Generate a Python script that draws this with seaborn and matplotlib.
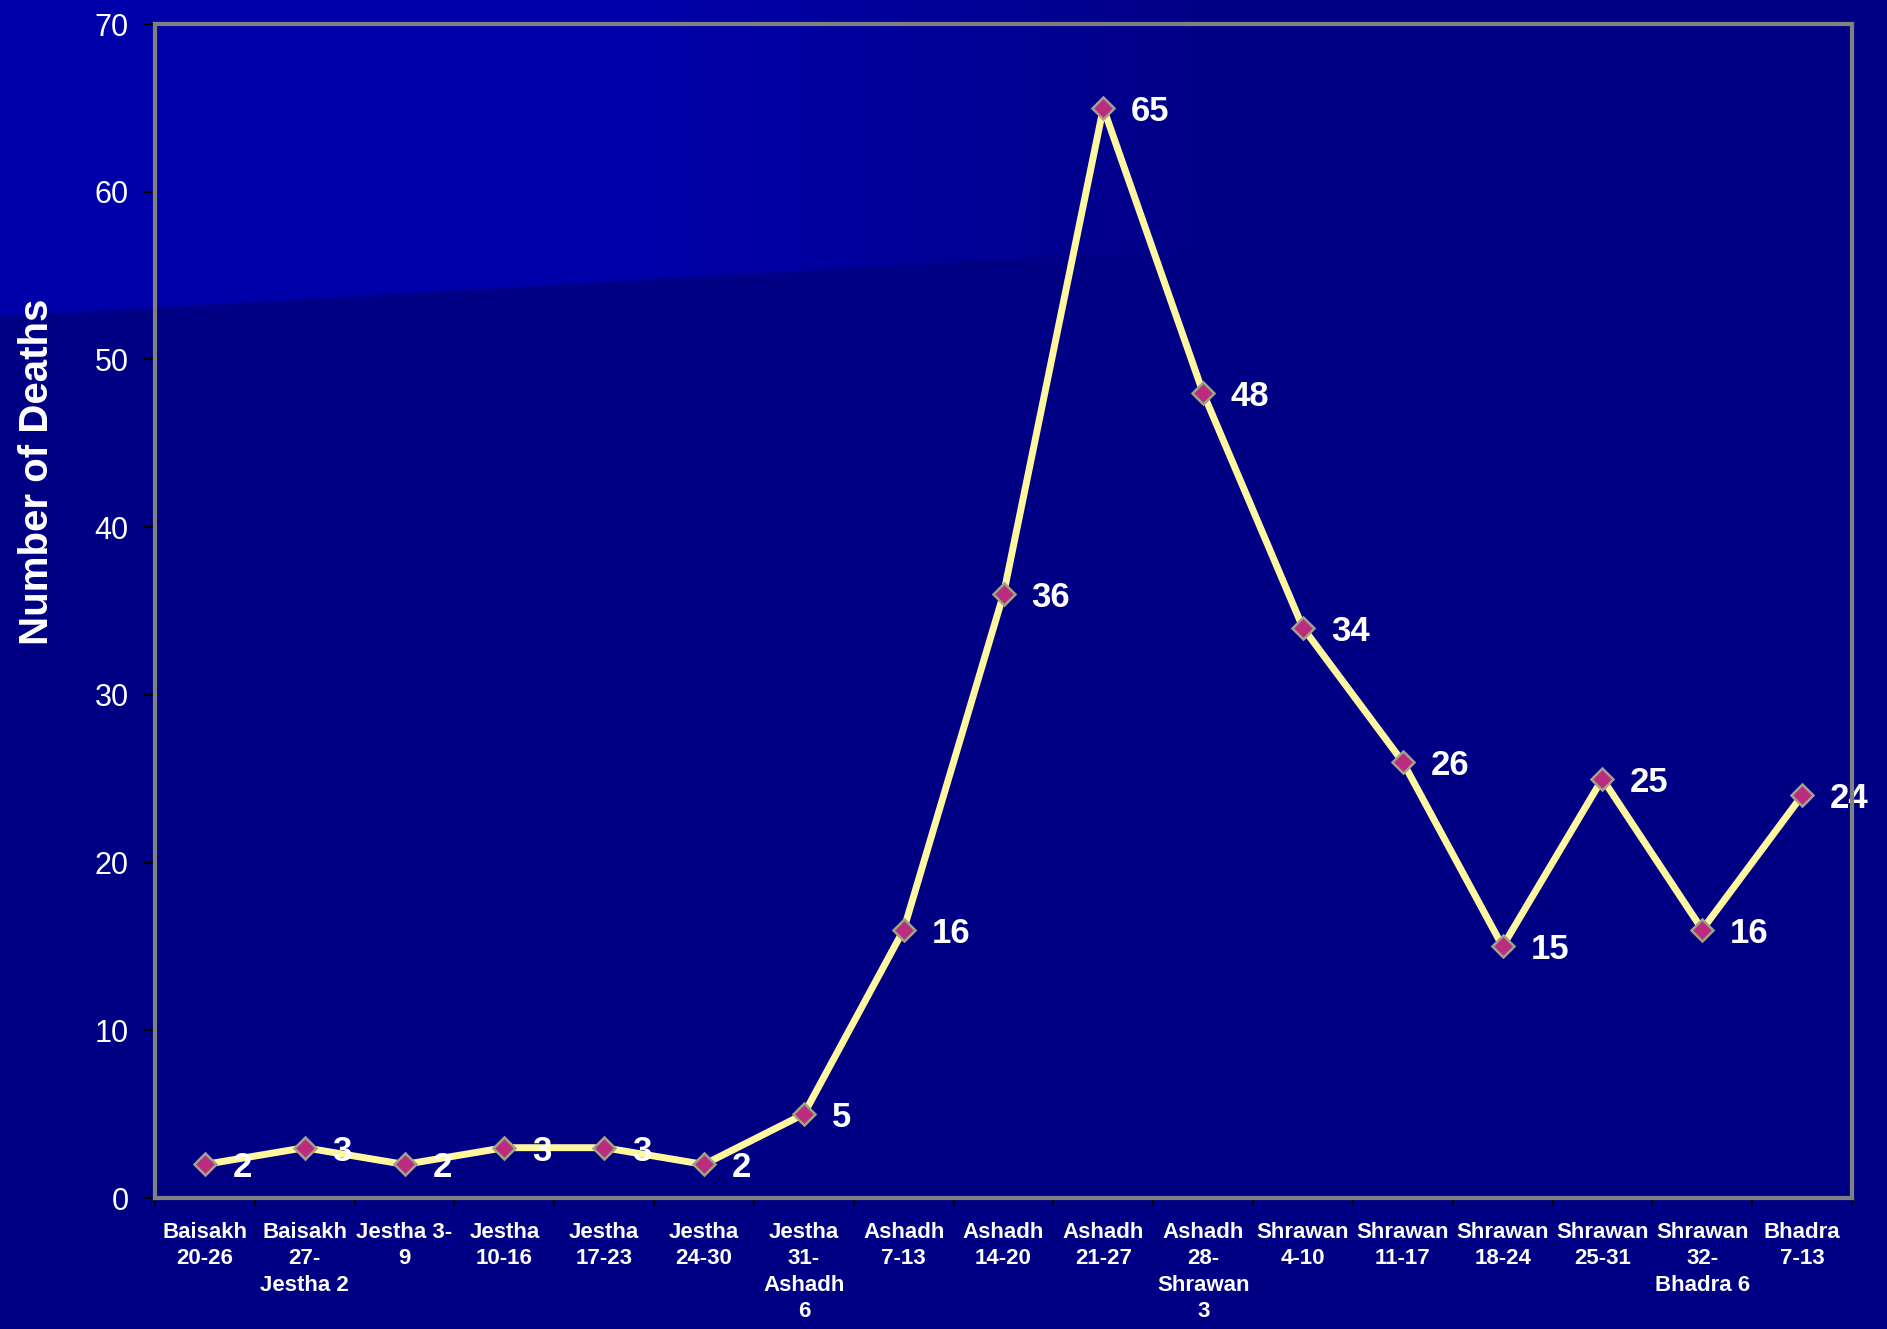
import numpy as np
import pandas as pd
import matplotlib
matplotlib.use("Agg")
import matplotlib.pyplot as plt
import seaborn as sns

categories = ["Baisakh\n20-26", "Baisakh\n27-\nJestha 2", "Jestha 3-\n9", "Jestha\n10-16",
              "Jestha\n17-23", "Jestha\n24-30", "Jestha\n31-\nAshadh\n6", "Ashadh\n7-13",
              "Ashadh\n14-20", "Ashadh\n21-27", "Ashadh\n28-\nShrawan\n3", "Shrawan\n4-10",
              "Shrawan\n11-17", "Shrawan\n18-24", "Shrawan\n25-31", "Shrawan\n32-\nBhadra 6",
              "Bhadra\n7-13"]
deaths = [2, 3, 2, 3, 3, 2, 5, 16, 36, 65, 48, 34, 26, 15, 25, 16, 24]
y_ticks = [0, 10, 20, 30, 40, 50, 60, 70]
y_label = "Number of Deaths"

sns.set_theme(style="white")
plt.rcParams['font.family'] = ['Liberation Sans', 'DejaVu Sans']

W, H = 1887, 1329
fig = plt.figure(figsize=(W / 100, H / 100), dpi=100)

# background with lighter top-left region
bg_ax = fig.add_axes([0, 0, 1, 1], zorder=-10)
xx, yy = np.meshgrid(np.arange(W), np.arange(H))
edge = 316 - 0.057 * xx
inside = np.clip((edge - yy) / 3.0 + 0.5, 0, 1)
fade = np.clip((1250 - xx) / 600.0, 0, 1)
a = inside * fade
dark = np.array([0, 0, 132]) / 255
light = np.array([0, 0, 170]) / 255
img = dark[None, None, :] * (1 - a[..., None]) + light[None, None, :] * a[..., None]
bg_ax.imshow(img, aspect='auto', extent=[0, 1, 0, 1], origin='upper')
bg_ax.set_axis_off()

ax = fig.add_axes([155 / W, 1 - 1198 / H, (1852 - 155) / W, (1198 - 24) / H])
ax.set_facecolor('none')

df = pd.DataFrame({"pos": np.arange(len(categories)), "deaths": deaths})
sns.lineplot(data=df, x="pos", y="deaths", ax=ax, sort=False, color="#FFF7A0",
             linewidth=5, marker="D", markersize=11, markerfacecolor="#BC2C7E",
             markeredgecolor="#9FA388", markeredgewidth=1.8, zorder=3)

for i, v in enumerate(deaths):
    ax.annotate(str(v), (i, v), xytext=(20, -2.5), textcoords='offset points',
                ha='left', va='center', color='white', fontsize=25, fontweight='bold',
                zorder=4, annotation_clip=False)

ax.set_xlim(-0.5, len(categories) - 0.5)
ax.set_ylim(0, 70)
ax.set_yticks(y_ticks)
ax.set_yticklabels([str(t) for t in y_ticks])
ax.tick_params(axis='y', which='major', direction='out', length=8, width=1.5,
               color='black', labelcolor='white', labelsize=22, pad=11, left=True)

ax.set_xticks(np.arange(len(categories) + 1) - 0.5)
ax.set_xticklabels([])
ax.set_xticks(np.arange(len(categories)), minor=True)
ax.set_xticklabels(categories, minor=True, fontsize=16, fontweight='bold',
                   color='white', linespacing=1.35, va='top')
ax.tick_params(axis='x', which='major', direction='out', length=6, width=1.5,
               color='black', bottom=True)
ax.tick_params(axis='x', which='minor', length=0, pad=17, bottom=True)

for s in ax.spines.values():
    s.set_visible(True)
    s.set_color('#808080')
    s.set_linewidth(3)
    s.set_zorder(5)

ax.set_xlabel("")
ax.set_ylabel("")
fig.text(37 / W, 1 - 472 / H, y_label, rotation=90, ha='center', va='center',
         color='white', fontsize=29, fontweight='bold')

fig.savefig("out.png", dpi=100, facecolor=fig.get_facecolor())
